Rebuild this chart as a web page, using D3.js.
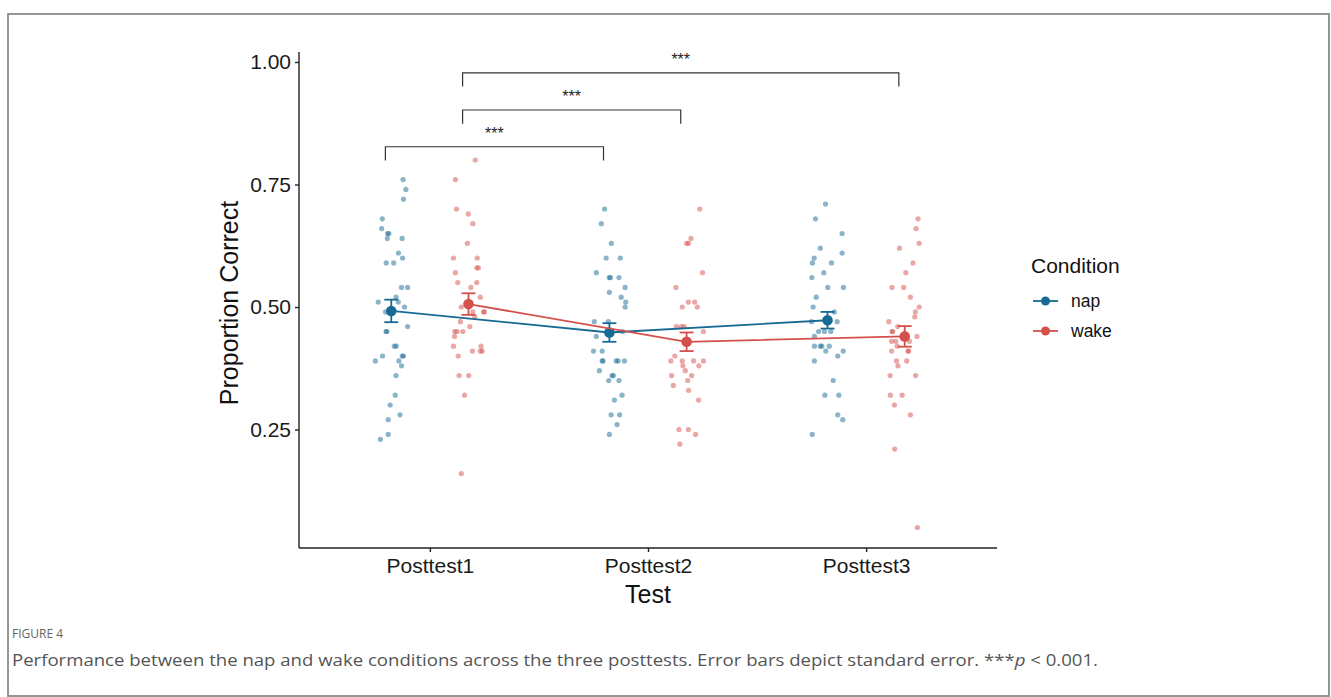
<!DOCTYPE html>
<html lang="en">
  <head>
    <meta charset="UTF-8" />
    <title>Figure 4 – Nap vs Wake</title>
    <script src="https://d3js.org/d3.v7.min.js"></script>
    <style>
      body {
        margin: 0;
        background: #fff;
      }
      svg {
        display: block;
        font-family: 'Liberation Sans', Arial, sans-serif;
      }
      .caption {
        font-family: 'Open Sans', sans-serif;
      }
    </style>
  </head>
  <body>
    <svg width="1331" height="697"></svg>

    <script>
      const tests = ['Posttest1', 'Posttest2', 'Posttest3'];
      const conditions = ['nap', 'wake'];
      const yTicks = [0.25, 0.5, 0.75, 1.0];

      // group means and standard errors
      const napMeans = [0.492, 0.448, 0.473];
      const napSE = [0.023, 0.019, 0.017];
      const wakeMeans = [0.506, 0.429, 0.44];
      const wakeSE = [0.022, 0.019, 0.021];

      // individual scores per test (value, jitter in category units)
      const napP1 = [0.76, 0.74, 0.72, 0.68, 0.66, 0.65, 0.65, 0.64, 0.64, 0.61, 0.6, 0.59, 0.59, 0.54, 0.54, 0.52, 0.51, 0.51, 0.5, 0.49, 0.46, 0.45, 0.45, 0.42, 0.42, 0.4, 0.4, 0.4, 0.39, 0.39, 0.38, 0.36, 0.32, 0.3, 0.28, 0.27, 0.24, 0.23];
      const napP1Jit = [0.054, 0.067, 0.056, -0.041, -0.044, -0.017, -0.011, -0.018, 0.05, 0.033, 0.052, -0.023, 0.011, 0.047, 0.075, 0.022, -0.06, 0.032, 0.061, -0.026, 0.075, -0.024, -0.02, 0.014, 0.023, 0.05, 0.056, -0.04, -0.073, 0.035, 0.047, 0.022, 0.018, -0.005, 0.04, -0.014, -0.014, -0.05];
      const wakeP1 = [0.8, 0.76, 0.7, 0.69, 0.67, 0.63, 0.6, 0.6, 0.58, 0.58, 0.57, 0.55, 0.55, 0.54, 0.52, 0.5, 0.49, 0.49, 0.49, 0.48, 0.47, 0.46, 0.45, 0.45, 0.45, 0.44, 0.42, 0.42, 0.41, 0.41, 0.41, 0.4, 0.36, 0.36, 0.32, 0.16];
      const wakeP1Jit = [0.031, -0.06, -0.055, -0.001, 0.02, -0.005, -0.069, 0.04, 0.038, 0.046, -0.06, -0.049, 0.038, 0.011, 0.054, -0.033, 0.02, 0.069, 0.073, 0.029, -0.037, 0.006, -0.063, -0.052, -0.026, -0.064, -0.069, 0.058, 0.018, 0.054, 0.063, -0.047, -0.043, 0.001, -0.018, -0.033];
      const napP2 = [0.7, 0.67, 0.63, 0.6, 0.6, 0.57, 0.56, 0.56, 0.56, 0.54, 0.53, 0.52, 0.51, 0.5, 0.47, 0.47, 0.45, 0.44, 0.41, 0.41, 0.39, 0.39, 0.39, 0.39, 0.39, 0.37, 0.36, 0.36, 0.35, 0.35, 0.32, 0.31, 0.28, 0.28, 0.26, 0.24];
      const napP2Jit = [-0.022, -0.037, 0.009, -0.015, 0.05, -0.06, -0.001, 0.005, 0.044, 0.072, 0.0, 0.054, 0.075, 0.072, -0.069, -0.005, 0.061, -0.06, -0.073, -0.033, -0.033, -0.029, 0.031, 0.04, 0.069, -0.046, 0.012, 0.018, -0.003, 0.044, 0.058, 0.023, 0.008, 0.047, 0.035, 0.0];
      const wakeP2 = [0.7, 0.64, 0.63, 0.63, 0.57, 0.54, 0.51, 0.51, 0.5, 0.5, 0.46, 0.46, 0.46, 0.45, 0.4, 0.39, 0.39, 0.39, 0.39, 0.38, 0.38, 0.37, 0.36, 0.36, 0.35, 0.34, 0.33, 0.31, 0.25, 0.25, 0.24, 0.22];
      const wakeP2Jit = [0.06, 0.02, 0.0, 0.009, 0.073, -0.049, 0.008, 0.037, -0.02, 0.049, -0.047, -0.024, -0.011, 0.077, -0.054, -0.072, -0.02, 0.032, 0.077, -0.017, 0.056, -0.006, -0.069, 0.023, 0.005, -0.061, 0.009, 0.055, -0.035, 0.008, 0.041, -0.031];
      const napP3 = [0.71, 0.68, 0.65, 0.62, 0.61, 0.6, 0.59, 0.59, 0.57, 0.56, 0.54, 0.54, 0.52, 0.5, 0.49, 0.47, 0.47, 0.45, 0.45, 0.45, 0.44, 0.42, 0.42, 0.42, 0.42, 0.41, 0.41, 0.4, 0.39, 0.35, 0.32, 0.32, 0.28, 0.27, 0.24];
      const napP3Jit = [-0.009, -0.055, 0.067, -0.033, 0.067, -0.061, -0.069, 0.018, -0.017, -0.072, 0.001, 0.073, -0.052, -0.066, 0.031, -0.073, 0.044, -0.041, -0.014, 0.015, -0.06, -0.06, -0.033, -0.026, 0.008, -0.008, 0.072, 0.047, -0.06, 0.026, -0.012, 0.052, 0.047, 0.07, -0.07];
      const wakeP3 = [0.68, 0.66, 0.63, 0.62, 0.59, 0.57, 0.54, 0.54, 0.52, 0.5, 0.49, 0.48, 0.47, 0.46, 0.45, 0.45, 0.44, 0.43, 0.43, 0.43, 0.42, 0.41, 0.41, 0.41, 0.39, 0.39, 0.38, 0.36, 0.36, 0.32, 0.32, 0.3, 0.28, 0.21, 0.05];
      const wakeP3Jit = [0.061, 0.052, 0.066, -0.024, 0.038, 0.005, -0.058, -0.005, 0.026, 0.066, 0.049, 0.046, -0.073, -0.032, -0.058, -0.055, 0.056, -0.06, -0.041, 0.022, -0.035, -0.06, 0.015, 0.018, -0.038, 0.009, -0.031, -0.067, 0.05, -0.066, -0.012, -0.047, 0.026, -0.046, 0.058];

      // pairwise comparisons: [test, condition] -> [test, condition]
      const comparisons = [
        { from: ['Posttest1', 'nap'], to: ['Posttest2', 'nap'], y: 0.827, label: '***' },
        { from: ['Posttest1', 'wake'], to: ['Posttest2', 'wake'], y: 0.902, label: '***' },
        { from: ['Posttest1', 'wake'], to: ['Posttest3', 'wake'], y: 0.978, label: '***' },
      ];

      const colors = { nap: '#176a93', wake: '#d4504c' };

      const raw = {
        nap: [[napP1, napP1Jit], [napP2, napP2Jit], [napP3, napP3Jit]],
        wake: [[wakeP1, wakeP1Jit], [wakeP2, wakeP2Jit], [wakeP3, wakeP3Jit]],
      };
      const summary = {
        nap: [napMeans, napSE],
        wake: [wakeMeans, wakeSE],
      };

      const points = [];
      conditions.forEach((c) => {
        raw[c].forEach(([vals, jit], i) => {
          vals.forEach((v, k) =>
            points.push({ test: tests[i], cond: c, value: v, jit: jit[k] }),
          );
        });
      });

      const svg = d3.select('svg');

      // outer frame
      svg
        .append('rect')
        .attr('x', 8)
        .attr('y', 14)
        .attr('width', 1321)
        .attr('height', 682)
        .attr('fill', 'none')
        .attr('stroke', '#8a8a8a')
        .attr('stroke-width', 1.8);

      const pLeft = 299,
        pRight = 997,
        pTop = 52,
        pBottom = 548;

      const x = d3
        .scalePoint()
        .domain(tests)
        .range([pLeft, pRight])
        .padding(0.6);
      const step = x.step();
      const dodge = { nap: -0.177, wake: 0.177 };

      const y = d3.scaleLinear().domain([0.0082, 1.0204]).range([pBottom, pTop]);

      const xPos = (test, cond, j = 0) => x(test) + (dodge[cond] + j) * step;

      // raw points
      svg
        .append('g')
        .selectAll('circle')
        .data(points)
        .join('circle')
        .attr('cx', (d) => xPos(d.test, d.cond, d.jit))
        .attr('cy', (d) => y(d.value))
        .attr('r', 2.6)
        .attr('fill', (d) => colors[d.cond])
        .attr('fill-opacity', 0.5);

      // mean lines, error bars, mean points
      conditions.forEach((c) => {
        const [means, se] = summary[c];
        const g = svg.append('g');
        const line = d3
          .line()
          .x((d, i) => xPos(tests[i], c))
          .y((d) => y(d));
        g.append('path')
          .datum(means)
          .attr('d', line)
          .attr('fill', 'none')
          .attr('stroke', colors[c])
          .attr('stroke-width', 1.8);

        means.forEach((m, i) => {
          const cx = xPos(tests[i], c);
          const y0 = y(m - se[i]),
            y1 = y(m + se[i]);
          g.append('line')
            .attr('x1', cx)
            .attr('x2', cx)
            .attr('y1', y0)
            .attr('y2', y1)
            .attr('stroke', colors[c])
            .attr('stroke-width', 1.8);
          [y0, y1].forEach((yy) =>
            g
              .append('line')
              .attr('x1', cx - 7)
              .attr('x2', cx + 7)
              .attr('y1', yy)
              .attr('y2', yy)
              .attr('stroke', colors[c])
              .attr('stroke-width', 1.8),
          );
          g.append('circle')
            .attr('cx', cx)
            .attr('cy', y(m))
            .attr('r', 5.3)
            .attr('fill', colors[c]);
        });
      });

      // significance brackets
      const shift = -0.027;
      const bg = svg.append('g');
      comparisons.forEach((cmp) => {
        const x1 = xPos(cmp.from[0], cmp.from[1], shift);
        const x2 = xPos(cmp.to[0], cmp.to[1], shift);
        const yt = y(cmp.y),
          yb = y(cmp.y - 0.028);
        bg.append('path')
          .attr('d', `M${x1},${yb}V${yt}H${x2}V${yb}`)
          .attr('fill', 'none')
          .attr('stroke', '#333')
          .attr('stroke-width', 1.2);
        bg.append('text')
          .attr('x', (x1 + x2) / 2)
          .attr('y', yt - 8)
          .attr('text-anchor', 'middle')
          .attr('font-size', 16)
          .attr('fill', '#222')
          .text(cmp.label);
      });

      // axes
      const yAxis = svg
        .append('g')
        .attr('transform', `translate(${pLeft},0)`)
        .call(
          d3
            .axisLeft(y)
            .tickValues(yTicks)
            .tickFormat(d3.format('.2f'))
            .tickSize(4)
            .tickPadding(4),
        );
      yAxis.select('.domain').attr('d', `M0,${pTop}V${pBottom}`);

      const xAxis = svg
        .append('g')
        .attr('transform', `translate(0,${pBottom})`)
        .call(d3.axisBottom(x).tickSize(4).tickPadding(6));
      xAxis.select('.domain').attr('d', `M${pLeft},0H${pRight}`);

      [yAxis, xAxis].forEach((a) => {
        a.selectAll('.domain, .tick line')
          .attr('stroke', '#222')
          .attr('stroke-width', 1.4);
        a.selectAll('text').attr('font-size', 21).attr('fill', '#1a1a1a');
        a.attr('font-family', null);
      });

      svg
        .append('text')
        .attr('transform', `translate(238,${(pTop + pBottom) / 2 + 3}) rotate(-90)`)
        .attr('text-anchor', 'middle')
        .attr('font-size', 25)
        .attr('fill', '#111')
        .text('Proportion Correct');

      svg
        .append('text')
        .attr('x', (pLeft + pRight) / 2)
        .attr('y', 603)
        .attr('text-anchor', 'middle')
        .attr('font-size', 25)
        .attr('fill', '#111')
        .text('Test');

      // legend
      const lg = svg.append('g').attr('transform', 'translate(1031,0)');
      lg.append('text')
        .attr('x', 0)
        .attr('y', 273)
        .attr('font-size', 21)
        .attr('fill', '#111')
        .text('Condition');
      conditions.forEach((c, i) => {
        const yy = 301 + i * 30;
        lg.append('line')
          .attr('x1', 2)
          .attr('x2', 27)
          .attr('y1', yy)
          .attr('y2', yy)
          .attr('stroke', colors[c])
          .attr('stroke-width', 1.8);
        lg.append('circle')
          .attr('cx', 14.5)
          .attr('cy', yy)
          .attr('r', 4.5)
          .attr('fill', colors[c]);
        lg.append('text')
          .attr('x', 40)
          .attr('y', yy + 6)
          .attr('font-size', 17.5)
          .attr('fill', '#111')
          .text(c);
      });

      // caption
      svg
        .append('text')
        .attr('class', 'caption')
        .attr('x', 12)
        .attr('y', 638)
        .attr('font-size', 12)
        .attr('fill', '#666')
        .text('FIGURE 4');

      const cap = svg
        .append('text')
        .attr('class', 'caption')
        .attr('x', 12)
        .attr('y', 666)
        .attr('font-size', 16.5)
        .attr('fill', '#555')
        .attr('textLength', 1086)
        .attr('lengthAdjust', 'spacingAndGlyphs');
      cap.append('tspan').text(
        'Performance between the nap and wake conditions across the three posttests. Error bars depict standard error. ***',
      );
      cap.append('tspan').attr('font-style', 'italic').text('p');
      cap.append('tspan').text(' < 0.001.');
    </script>
  </body>
</html>
